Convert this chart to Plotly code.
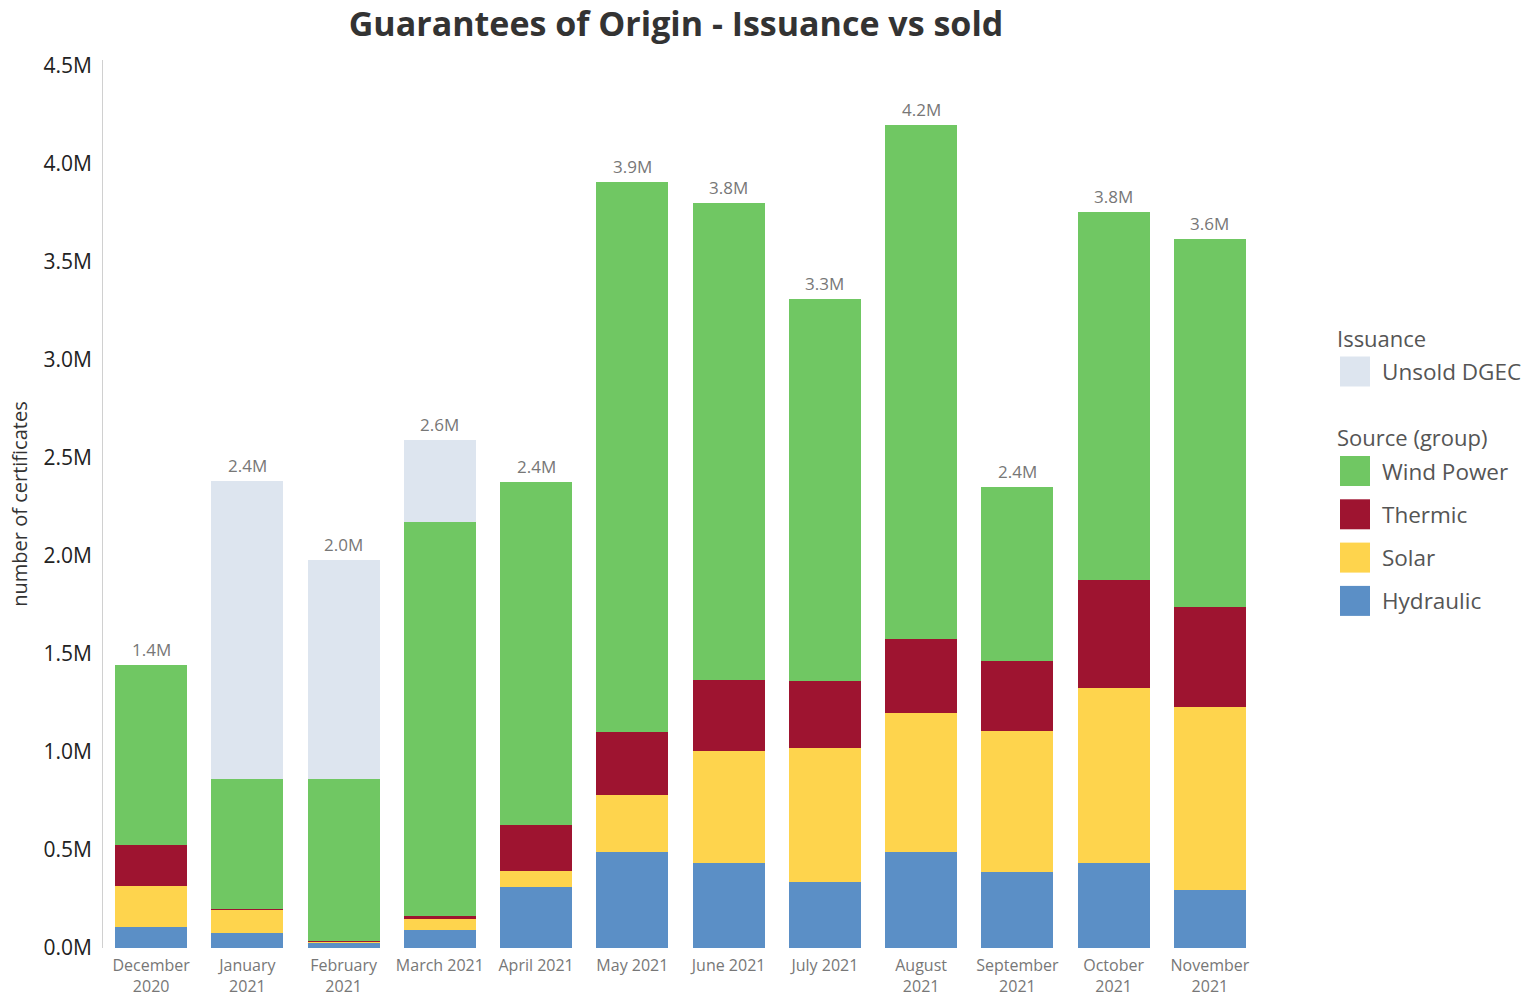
import plotly.graph_objects as go

# Data (values in millions of certificates)
months = ["December<br>2020", "January<br>2021", "February<br>2021", "March 2021",
          "April 2021", "May 2021", "June 2021", "July 2021", "August<br>2021",
          "September<br>2021", "October<br>2021", "November<br>2021"]
hydraulic = [0.107, 0.077, 0.026, 0.092, 0.311, 0.490, 0.434, 0.337, 0.490, 0.388, 0.434, 0.296]
solar = [0.209, 0.117, 0.005, 0.056, 0.082, 0.291, 0.571, 0.683, 0.709, 0.719, 0.893, 0.934]
thermic = [0.210, 0.005, 0.005, 0.015, 0.235, 0.321, 0.362, 0.342, 0.378, 0.357, 0.551, 0.510]
wind = [0.918, 0.663, 0.826, 2.010, 1.750, 2.806, 2.434, 1.949, 2.622, 0.890, 1.876, 1.877]
unsold = [0.0, 1.521, 1.118, 0.419, 0.0, 0.0, 0.0, 0.0, 0.0, 0.0, 0.0, 0.0]
y_ticks = [0.0, 0.5, 1.0, 1.5, 2.0, 2.5, 3.0, 3.5, 4.0, 4.5]

colors = {"Hydraulic": "#5B8FC6", "Solar": "#FED44D", "Thermic": "#9E1430",
          "Wind Power": "#70C763", "Unsold DGEC": "#DDE5EF"}
series = [("Hydraulic", hydraulic), ("Solar", solar), ("Thermic", thermic),
          ("Wind Power", wind), ("Unsold DGEC", unsold)]
legend_groups = [("Issuance", ["Unsold DGEC"]),
                 ("Source (group)", ["Wind Power", "Thermic", "Solar", "Hydraulic"])]

fig = go.Figure()
for name, vals in series:
    fig.add_trace(go.Bar(
        x=months, y=vals, name=name, marker=dict(color=colors[name], line=dict(width=0)),
        showlegend=False,
        hovertemplate="%{x}<br>" + name + ": %{y:.2f}M<extra></extra>",
    ))

totals = [sum(v) for v in zip(hydraulic, solar, thermic, wind, unsold)]
for m, t in zip(months, totals):
    fig.add_annotation(x=m, y=t, text=f"{t:.1f}M", showarrow=False, yanchor="bottom",
                       yshift=2, font=dict(family="Open Sans", size=17, color="#777"))

# Legend (Tableau style: two titled groups with large square swatches)
W, H = 1528, 998
L, R, T, B = 103, 270, 60, 50
pw, ph = W - L - R, H - T - B
def px_x(p):
    return (p - L) / pw
def px_y(p):
    return (H - B - p) / ph

yy = 338
for gi, (gtitle, items) in enumerate(legend_groups):
    if gi > 0:
        yy += 66
    fig.add_annotation(xref="paper", yref="paper", x=px_x(1335), y=px_y(yy), text=gtitle,
                       showarrow=False, xanchor="left", yanchor="middle",
                       font=dict(family="Open Sans", size=22, color="#555"))
    yy += 33.5
    for ii, name in enumerate(items):
        if ii > 0:
            yy += 43.3
        fig.add_shape(type="rect", xref="paper", yref="paper",
                      x0=px_x(1340), x1=px_x(1370), y0=px_y(yy - 15), y1=px_y(yy + 15),
                      fillcolor=colors[name], line=dict(width=0))
        fig.add_annotation(xref="paper", yref="paper", x=px_x(1380), y=px_y(yy), text=name,
                           showarrow=False, xanchor="left", yanchor="middle",
                           font=dict(family="Open Sans", size=22.5, color="#555"))

fig.update_layout(
    width=W, height=H,
    barmode="stack", bargap=0.25,
    plot_bgcolor="white", paper_bgcolor="white",
    margin=dict(l=L, r=R, t=T, b=B),
    font=dict(family="Open Sans", color="#333"),
    title=dict(text="<b>Guarantees of Origin - Issuance vs sold</b>", x=676 / W, xref="container",
               xanchor="center", y=1 - 24 / H, yref="container", yanchor="middle",
               font=dict(family="Open Sans", size=34, color="#333")),
    showlegend=False,
)
fig.update_yaxes(range=[0, 4.531], tickvals=y_ticks, ticktext=[f"{v:.1f}M" for v in y_ticks],
                 showgrid=False, zeroline=False, showline=True, linecolor="#d0d0d0", linewidth=1,
                 ticks="", ticklabelstandoff=6, automargin=False,
                 tickfont=dict(family="Open Sans", size=21, color="#222"),
                 title=dict(text="number of certificates", standoff=10,
                            font=dict(family="Open Sans", size=20, color="#333")))
fig.update_xaxes(showgrid=False, showline=False, ticks="", tickangle=0, automargin=False,
                 ticklabelstandoff=6,
                 tickfont=dict(family="Open Sans", size=16, color="#777"))

fig.write_html("out.html")
